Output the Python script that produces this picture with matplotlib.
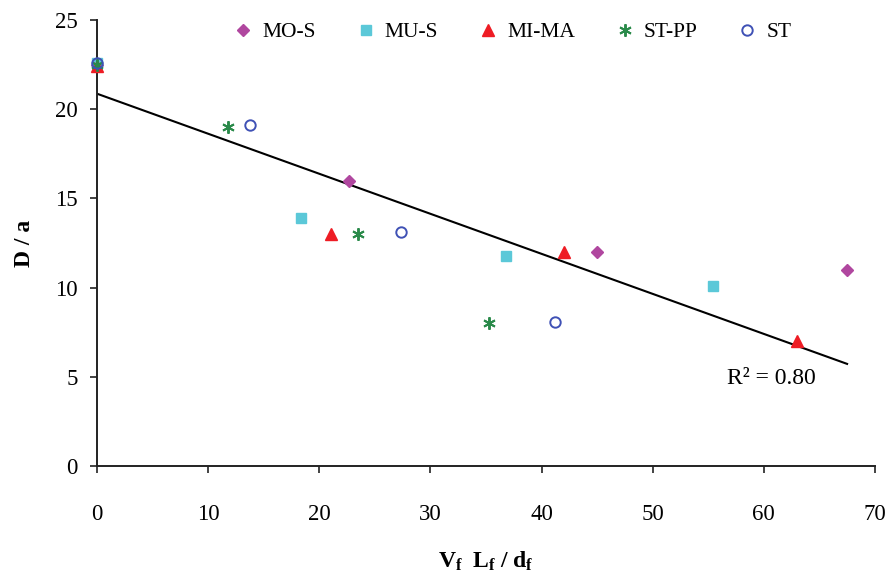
import numpy as np
import matplotlib
matplotlib.use("Agg")
from matplotlib import pyplot as plt

plt.rcParams['font.family'] = ['Liberation Serif', 'DejaVu Serif']
plt.rcParams['mathtext.fontset'] = 'custom'
plt.rcParams['mathtext.rm'] = 'Liberation Serif'
plt.rcParams['mathtext.bf'] = 'Liberation Serif:bold'
plt.rcParams['mathtext.it'] = 'Liberation Serif:italic'

# values
mos_x = [0, 22.7, 45.0, 67.5]
mos_y = [22.5, 16.0, 12.0, 11.0]

mus_x = [0, 18.4, 36.8, 55.4]
mus_y = [22.6, 13.9, 11.8, 10.1]

mima_x = [0, 21.1, 42.0, 63.0]
mima_y = [22.4, 13.0, 12.0, 7.0]

stpp_x = [0, 11.8, 23.5, 35.3]
stpp_y = [22.5, 19.0, 13.0, 8.0]

st_x = [0, 13.8, 27.4, 41.2]
st_y = [22.6, 19.1, 13.1, 8.1]

r2_label = "R² = 0.80"

fig = plt.figure(figsize=(8.9, 5.74), dpi=100)
ax = fig.add_axes([0.109, 0.188, 0.874, 0.777])

# trend line over all points
all_x = np.array(mos_x + mus_x + mima_x + stpp_x + st_x)
all_y = np.array(mos_y + mus_y + mima_y + stpp_y + st_y)
k, n = np.polyfit(all_x, all_y, 1)
xx = np.array([0, all_x.max()])
ax.plot(xx, k * xx + n, color='black', lw=1.5, zorder=2)

ax.plot(mos_x, mos_y, ls='none', marker='D', ms=6.2, color='#b0479f', mec='#b0479f', label='MO-S', clip_on=False, zorder=4)
ax.plot(mus_x, mus_y, ls='none', marker='s', ms=7.8, color='#5bc8d8', mec='#5bc8d8', label='MU-S', clip_on=False, zorder=4)
ax.plot(mima_x, mima_y, ls='none', marker='^', ms=9, color='#ee1c24', mec='#ee1c24', label='MI-MA', clip_on=False, zorder=4)
ax.plot(stpp_x, stpp_y, ls='none', marker=(6, 2, 0), ms=9, mew=1.4, color='#2a8a4a', label='ST-PP', clip_on=False, zorder=4)
ax.plot(st_x, st_y, ls='none', marker='o', ms=7.5, mew=1.4, mfc='none', color='#3f51b5', label='ST', clip_on=False, zorder=4)

ax.text(56.7, 4.9, r2_label, fontsize=17, va='center', ha='left')

ax.set_xlim(0, 70)
ax.set_ylim(0, 25)
ax.set_xticks(range(0, 71, 10))
ax.set_yticks(range(0, 26, 5))

for s in ['top', 'right']:
    ax.spines[s].set_visible(False)
for s in ['left', 'bottom']:
    ax.spines[s].set_linewidth(1.4)
    ax.spines[s].set_color('#222222')

ax.tick_params(axis='both', direction='out', length=5, width=1.2, color='#222222', labelsize=16.5)
ax.tick_params(axis='x', pad=22)
ax.tick_params(axis='y', pad=9)

ax.set_xlabel(r'$\mathbf{V_f\ \ L_f\ /\ d_f}$', fontsize=17, labelpad=18)
ax.set_ylabel('D / a', fontsize=17, fontweight='bold', labelpad=14)

ax.legend(loc='center', bbox_to_anchor=(0.535, 0.973), ncol=5, frameon=False,
          fontsize=15.5, handlelength=0.8, handletextpad=0.5, columnspacing=1.9,
          borderaxespad=0)

fig.savefig('out.png', dpi=100)
